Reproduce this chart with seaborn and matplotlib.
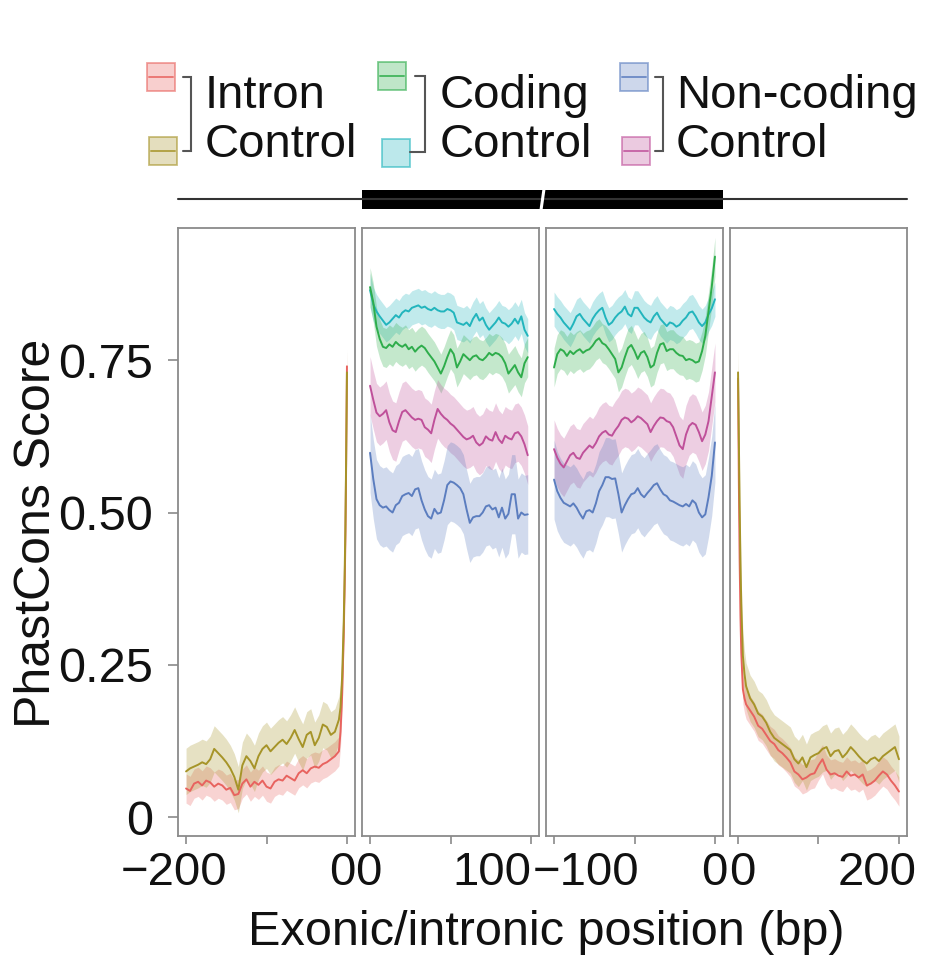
import numpy as np
import pandas as pd
import matplotlib
matplotlib.use("Agg")
import matplotlib.pyplot as plt
import matplotlib.transforms as mtransforms
from matplotlib.patches import Rectangle
import seaborn as sns

sns.set_theme(style="white")
plt.rcParams['font.family'] = ['Liberation Sans', 'DejaVu Sans']

# ---------------- data ----------------
series_names = ["Intron", "IntronControl", "Coding", "CodingControl", "Noncoding", "NoncodingControl"]
colors = {"Intron": "#E8635F", "IntronControl": "#A69428", "Coding": "#2EAD4B",
          "CodingControl": "#22B5BD", "Noncoding": "#5B7DBF", "NoncodingControl": "#BF509A"}
half_width = {"Intron": 0.024, "IntronControl": 0.038, "Coding": 0.032,
              "CodingControl": 0.028, "Noncoding": 0.065, "NoncodingControl": 0.048}

# upstream intron (-200 .. 0)
up_x = list(range(-200, -9, 5)) + [-8, -6, -4, -3, -2, -1, 0]
up_intron = [0.047, 0.043, 0.055, 0.058, 0.052, 0.060, 0.057, 0.050, 0.055, 0.052,
             0.045, 0.048, 0.036, 0.038, 0.055, 0.062, 0.050, 0.058, 0.053, 0.060,
             0.050, 0.047, 0.058, 0.062, 0.060, 0.068, 0.064, 0.060, 0.072, 0.077,
             0.072, 0.080, 0.083, 0.081, 0.087, 0.090, 0.095, 0.100, 0.108,
             0.14, 0.20, 0.30, 0.37, 0.45, 0.58, 0.74]
up_control = [0.075, 0.080, 0.083, 0.086, 0.090, 0.087, 0.095, 0.112, 0.105, 0.098,
              0.090, 0.080, 0.066, 0.045, 0.085, 0.100, 0.092, 0.080, 0.100, 0.112,
              0.118, 0.108, 0.115, 0.122, 0.127, 0.120, 0.130, 0.143, 0.128, 0.115,
              0.135, 0.140, 0.118, 0.130, 0.152, 0.148, 0.135, 0.140, 0.160,
              0.18, 0.23, 0.32, 0.39, 0.47, 0.59, 0.73]

# exon start (0 .. 98)
es_x = list(range(0, 99, 2))
es_coding_ctrl = [0.865, 0.842, 0.830, 0.822, 0.815, 0.808, 0.812, 0.818, 0.824, 0.820,
                  0.828, 0.832, 0.830, 0.836, 0.838, 0.840, 0.836, 0.838, 0.834, 0.832,
                  0.836, 0.832, 0.830, 0.830, 0.834, 0.832, 0.828, 0.812, 0.810, 0.808,
                  0.812, 0.806, 0.818, 0.826, 0.815, 0.820, 0.808, 0.800, 0.806, 0.812,
                  0.820, 0.812, 0.810, 0.805, 0.810, 0.818, 0.810, 0.822, 0.800, 0.790]
es_coding = [0.870, 0.845, 0.805, 0.785, 0.772, 0.770, 0.776, 0.772, 0.780, 0.775,
             0.772, 0.776, 0.768, 0.772, 0.764, 0.770, 0.774, 0.770, 0.762, 0.755,
             0.748, 0.738, 0.728, 0.740, 0.755, 0.768, 0.760, 0.738, 0.748, 0.760,
             0.755, 0.750, 0.756, 0.758, 0.752, 0.750, 0.755, 0.762, 0.758, 0.762,
             0.760, 0.755, 0.745, 0.728, 0.735, 0.742, 0.730, 0.722, 0.745, 0.755]
es_noncoding_ctrl = [0.708, 0.685, 0.664, 0.658, 0.662, 0.668, 0.648, 0.635, 0.632, 0.650,
                     0.665, 0.668, 0.662, 0.656, 0.652, 0.654, 0.652, 0.640, 0.636, 0.630,
                     0.652, 0.670, 0.662, 0.656, 0.652, 0.646, 0.642, 0.636, 0.630, 0.624,
                     0.620, 0.622, 0.626, 0.615, 0.610, 0.614, 0.625, 0.620, 0.618, 0.632,
                     0.620, 0.614, 0.626, 0.622, 0.620, 0.630, 0.632, 0.625, 0.612, 0.594]
es_noncoding = [0.598, 0.555, 0.522, 0.512, 0.508, 0.510, 0.504, 0.500, 0.512, 0.516,
                0.527, 0.530, 0.532, 0.527, 0.538, 0.540, 0.520, 0.505, 0.494, 0.490,
                0.506, 0.498, 0.500, 0.520, 0.545, 0.551, 0.549, 0.545, 0.540, 0.530,
                0.505, 0.483, 0.492, 0.494, 0.494, 0.500, 0.510, 0.512, 0.505, 0.508,
                0.492, 0.508, 0.490, 0.498, 0.530, 0.530, 0.490, 0.500, 0.496, 0.497]

# exon end (-100 .. 0)
ee_x = list(range(-100, 1, 2))
ee_coding_ctrl = [0.834, 0.826, 0.820, 0.812, 0.806, 0.800, 0.810, 0.822, 0.826, 0.818,
                  0.812, 0.806, 0.818, 0.826, 0.832, 0.836, 0.820, 0.808, 0.812, 0.820,
                  0.826, 0.830, 0.838, 0.826, 0.822, 0.836, 0.836, 0.828, 0.820, 0.815,
                  0.812, 0.822, 0.828, 0.818, 0.812, 0.806, 0.812, 0.810, 0.805, 0.808,
                  0.815, 0.820, 0.828, 0.830, 0.822, 0.812, 0.806, 0.812, 0.825, 0.835, 0.850]
ee_coding = [0.738, 0.760, 0.768, 0.765, 0.757, 0.765, 0.760, 0.765, 0.768, 0.762,
             0.766, 0.768, 0.774, 0.782, 0.786, 0.778, 0.775, 0.768, 0.760, 0.752,
             0.730, 0.738, 0.755, 0.770, 0.775, 0.765, 0.752, 0.762, 0.765, 0.755,
             0.738, 0.742, 0.762, 0.776, 0.778, 0.765, 0.768, 0.768, 0.762, 0.758,
             0.757, 0.750, 0.752, 0.750, 0.746, 0.748, 0.765, 0.790, 0.830, 0.870, 0.920]
ee_noncoding_ctrl = [0.604, 0.590, 0.580, 0.574, 0.584, 0.594, 0.598, 0.590, 0.588, 0.598,
                     0.604, 0.610, 0.606, 0.614, 0.625, 0.631, 0.634, 0.628, 0.626, 0.635,
                     0.642, 0.652, 0.656, 0.654, 0.648, 0.652, 0.658, 0.655, 0.650, 0.645,
                     0.632, 0.642, 0.650, 0.656, 0.655, 0.650, 0.648, 0.640, 0.625, 0.610,
                     0.604, 0.628, 0.642, 0.647, 0.644, 0.632, 0.617, 0.628, 0.650, 0.690, 0.730]
ee_noncoding = [0.554, 0.535, 0.524, 0.516, 0.513, 0.510, 0.515, 0.508, 0.498, 0.490,
                0.502, 0.504, 0.500, 0.515, 0.535, 0.545, 0.558, 0.558, 0.555, 0.556,
                0.530, 0.500, 0.512, 0.522, 0.530, 0.532, 0.540, 0.530, 0.525, 0.532,
                0.538, 0.545, 0.548, 0.538, 0.530, 0.527, 0.520, 0.518, 0.515, 0.512,
                0.510, 0.514, 0.510, 0.520, 0.515, 0.500, 0.492, 0.497, 0.525, 0.560, 0.615]

# downstream intron (0 .. 200)
dn_x = [0, 1, 2, 3, 4, 6, 8] + list(range(10, 201, 5))
dn_intron = [0.72, 0.55, 0.42, 0.33, 0.27, 0.21, 0.195,
             0.185, 0.175, 0.165, 0.150, 0.145, 0.135, 0.125, 0.120, 0.110, 0.105,
             0.098, 0.090, 0.075, 0.070, 0.062, 0.065, 0.070, 0.072, 0.085, 0.095,
             0.078, 0.070, 0.072, 0.068, 0.066, 0.075, 0.068, 0.070, 0.065, 0.070,
             0.052, 0.055, 0.060, 0.068, 0.075, 0.070, 0.060, 0.052, 0.042]
dn_control = [0.73, 0.62, 0.51, 0.42, 0.35, 0.265, 0.235,
              0.215, 0.195, 0.185, 0.170, 0.165, 0.155, 0.140, 0.130, 0.125, 0.120,
              0.115, 0.110, 0.095, 0.088, 0.098, 0.082, 0.098, 0.102, 0.105, 0.112,
              0.115, 0.100, 0.108, 0.110, 0.098, 0.105, 0.115, 0.108, 0.100, 0.093,
              0.088, 0.095, 0.098, 0.092, 0.100, 0.105, 0.110, 0.115, 0.095]

panels = [
    dict(x=up_x, series={"Intron": up_intron, "IntronControl": up_control},
         xlim=(-210, 10), ticks=[-200, -100, 0], labels=["\u2212200", "", "0"],
         shift=[-12, 0, -4.5]),
    dict(x=es_x, series={"CodingControl": es_coding_ctrl, "Coding": es_coding,
                         "NoncodingControl": es_noncoding_ctrl, "Noncoding": es_noncoding},
         xlim=(-5, 105), ticks=[0, 50, 100], labels=["0", "", "100"],
         shift=[-1.5, 0, -39]),
    dict(x=ee_x, series={"CodingControl": ee_coding_ctrl, "Coding": ee_coding,
                         "NoncodingControl": ee_noncoding_ctrl, "Noncoding": ee_noncoding},
         xlim=(-105, 5), ticks=[-100, -50, 0], labels=["\u2212100", "", "0"],
         shift=[31.5, 0, -1]),
    dict(x=dn_x, series={"Intron": dn_intron, "IntronControl": dn_control},
         xlim=(-10, 210), ticks=[0, 100, 200], labels=["0", "", "200"],
         shift=[4, 0, -22]),
]

y_ticks = [0, 0.25, 0.5, 0.75]
y_labels = ["0", "0.25", "0.50", "0.75"]

# ---------------- figure ----------------
W, H = 926, 957
fig = plt.figure(figsize=(W / 100, H / 100), dpi=100)

ax_left = [178, 362, 546, 730]
ax_w = 177
ax_top, ax_bot = 228, 836
frame_col = "#8a8a8a"

for i, p in enumerate(panels):
    ax = fig.add_axes([ax_left[i] / W, 1 - ax_bot / H, ax_w / W, (ax_bot - ax_top) / H])
    rows = []
    for name, vals in p["series"].items():
        lo = [v - half_width[name] for v in vals]
        hi = [v + half_width[name] for v in vals]
        ax.fill_between(p["x"], lo, hi, color=colors[name], alpha=0.28, lw=0)
        for xx, vv in zip(p["x"], vals):
            rows.append((name, xx, vv))
    df = pd.DataFrame(rows, columns=["series", "pos", "score"])
    sns.lineplot(data=df, x="pos", y="score", hue="series", palette=colors,
                 estimator=None, errorbar=None, legend=False, lw=1.4, ax=ax)
    ax.set_xlim(*p["xlim"])
    ax.set_ylim(-0.031, 0.967)
    ax.set_xticks(p["ticks"])
    ax.set_xticklabels(p["labels"])
    ax.set_xlabel("")
    ax.set_ylabel("")
    ax.tick_params(axis="x", bottom=True, length=6, width=1.2, color=frame_col,
                   pad=5, labelsize=34, labelcolor="#111111")
    if i == 0:
        ax.set_yticks(y_ticks)
        ax.set_yticklabels(y_labels)
        ax.tick_params(axis="y", left=True, length=7, width=1.2, color=frame_col,
                       pad=11, labelsize=35, labelcolor="#111111")
    else:
        ax.set_yticks([])
    for s in ax.spines.values():
        s.set_color(frame_col)
        s.set_linewidth(1.3)
        s.set_visible(True)
    for lab, dx in zip(ax.get_xticklabels(), p["shift"]):
        lab.set_transform(lab.get_transform() +
                          mtransforms.ScaledTranslation(dx / 100, 0, fig.dpi_scale_trans))

fig.text(546 / W, 1 - 945 / H, "Exonic/intronic position (bp)", ha="center",
         va="baseline", fontsize=35, color="#111111")
fig.text(50 / W, 1 - 533 / H, "PhastCons Score", rotation=90, rotation_mode="anchor",
         ha="center", va="baseline", fontsize=36, color="#111111")

# ---------------- overlay: legend + gene model ----------------
ov = fig.add_axes([0, 0, 1, 1])
ov.set_xlim(0, W)
ov.set_ylim(H, 0)
ov.axis("off")


def key(x0, y0, col, line=True):
    ov.add_patch(Rectangle((x0, y0), 28, 28, facecolor=col, alpha=0.3, lw=0))
    ov.add_patch(Rectangle((x0, y0), 28, 28, facecolor="none", edgecolor=col,
                           alpha=0.6, lw=1.3))
    if line:
        ov.plot([x0 + 2, x0 + 26], [y0 + 14, y0 + 14], color=col, lw=1.4, alpha=0.8)


groups = [
    dict(keys=[(147, 63, "Intron", True), (149, 137, "IntronControl", True)],
         br=([183, 191, 191, 183], [77, 77, 151, 151]), tx=205, words=("Intron", "Control")),
    dict(keys=[(378, 62, "Coding", True), (382, 139, "CodingControl", False)],
         br=([415, 425, 425, 410], [76, 76, 152, 152]), tx=440, words=("Coding", "Control")),
    dict(keys=[(620, 63, "Noncoding", True), (622, 137, "NoncodingControl", True)],
         br=([655, 663, 663, 655], [77, 77, 151, 151]), tx=676, words=("Non-coding", "Control")),
]
for g in groups:
    for (kx, ky, nm, ln) in g["keys"]:
        key(kx, ky, colors[nm], ln)
    ov.plot(g["br"][0], g["br"][1], color="#555555", lw=1.5, solid_joinstyle="miter")
    ov.text(g["tx"], 108, g["words"][0], fontsize=34, ha="left", va="baseline", color="#111111")
    ov.text(g["tx"], 157, g["words"][1], fontsize=34, ha="left", va="baseline", color="#111111")

# gene model
ov.plot([178, 907], [199, 199], color="#333333", lw=1.5)
ov.add_patch(Rectangle((362, 190), 361, 19, facecolor="black", lw=0))
ov.plot([544, 541], [189, 210], color="white", lw=2.2)

fig.savefig("out.png", dpi=100)
